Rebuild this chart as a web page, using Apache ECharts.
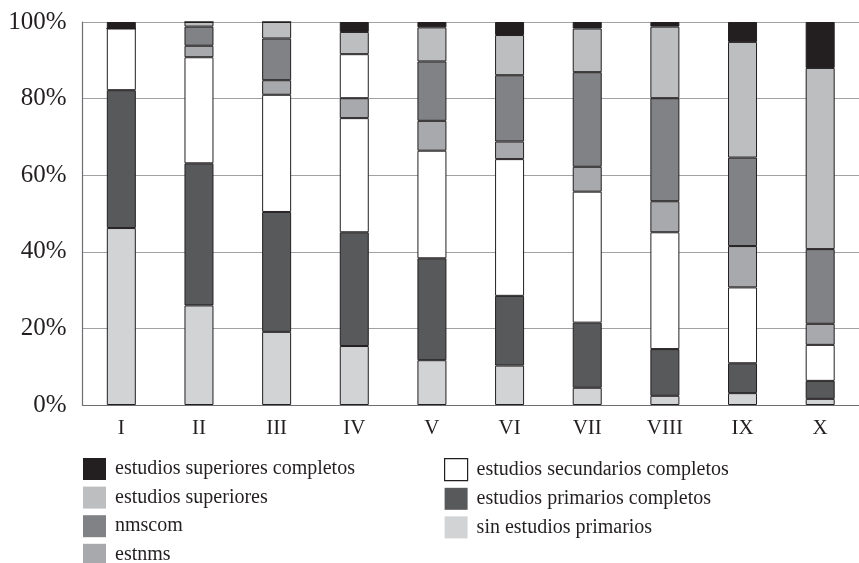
<!DOCTYPE html>
<html>
<head>
<meta charset="utf-8">
<script src="https://cdn.jsdelivr.net/npm/echarts@6/dist/echarts.min.js"></script>
<style>html,body{margin:0;padding:0;background:#fff}#c{width:859px;height:563px}</style>
</head>
<body>
<div id="c"></div>
<script>
const categories = ['I','II','III','IV','V','VI','VII','VIII','IX','X'];
const yTicks = [0, 20, 40, 60, 80, 100];
// bottom to top
const sinEstudiosPrimarios        = [46.2, 26.0, 19.1, 15.4, 11.7, 10.3,  4.5,  2.4,  3.1,  1.6];
const estudiosPrimariosCompletos  = [36.0, 37.1, 31.3, 29.7, 26.6, 18.2, 17.0, 12.2,  7.8,  4.7];
const estudiosSecundariosCompletos= [16.1, 27.7, 30.6, 29.8, 28.1, 35.7, 34.2, 30.5, 19.8,  9.4];
const estnms                      = [ 0.0,  3.0,  3.8,  5.2,  7.8,  4.6,  6.5,  8.1, 10.8,  5.5];
const nmscom                      = [ 0.0,  5.0, 10.9, 11.5, 15.5, 17.3, 24.7, 26.9, 23.1, 19.5];
const estudiosSuperiores          = [ 0.0,  1.2,  4.3,  5.8,  8.9, 10.5, 11.4, 18.7, 30.2, 47.3];
const estudiosSuperioresCompletos = [ 1.7,  0.0,  0.0,  2.6,  1.4,  3.4,  1.7,  1.2,  5.2, 12.0];

const seriesDefs = [
  {name:'sin estudios primarios', data: sinEstudiosPrimarios, color:'#d1d3d4'},
  {name:'estudios primarios completos', data: estudiosPrimariosCompletos, color:'#58595b'},
  {name:'estudios secundarios completos', data: estudiosSecundariosCompletos, color:'#ffffff'},
  {name:'estnms', data: estnms, color:'#a7a9ac'},
  {name:'nmscom', data: nmscom, color:'#808285'},
  {name:'estudios superiores', data: estudiosSuperiores, color:'#bcbec0'},
  {name:'estudios superiores completos', data: estudiosSuperioresCompletos, color:'#231f20'}
];
// in the reference, nmscom of category IV is drawn white
const colorOverrides = {'nmscom': {3: '#ffffff'}};

const font = 'Liberation Serif, DejaVu Serif, serif';
const ink = '#231f20';

const chart = echarts.init(document.getElementById('c'), null, {renderer:'canvas'});

const series = seriesDefs.map(s => ({
  name: s.name,
  type: 'bar',
  stack: 'total',
  barWidth: 29,
  itemStyle: {color: s.color, borderColor: ink, borderWidth: 1},
  emphasis: {disabled: true},
  data: s.data.map((v, i) => {
    const ov = colorOverrides[s.name] && colorOverrides[s.name][i];
    return ov ? {value: v, itemStyle: {color: ov}} : v;
  })
}));

function legendItem(name) {
  const isWhite = name === 'estudios secundarios completos';
  return {name: name, itemStyle: isWhite ? {borderColor: ink, borderWidth: 1.2} : {borderWidth: 0}};
}
const legendCommon = {
  orient: 'vertical',
  top: 458,
  height: 140,
  padding: 0,
  itemWidth: 23,
  itemHeight: 22,
  itemGap: 6.6,
  icon: 'rect',
  selectedMode: false,
  textStyle: {fontFamily: font, fontSize: 20, color: ink, padding: [0,0,0,4]}
};

chart.setOption({
  animation: false,
  backgroundColor: '#fff',
  grid: {left: 82.5, top: 22, width: 782, height: 383, containLabel: false},
  legend: [
    Object.assign({}, legendCommon, {left: 83, data: ['estudios superiores completos','estudios superiores','nmscom','estnms'].map(legendItem)}),
    Object.assign({}, legendCommon, {left: 444, data: ['estudios secundarios completos','estudios primarios completos','sin estudios primarios'].map(legendItem)})
  ],
  xAxis: {
    type: 'category',
    data: categories,
    axisLine: {lineStyle: {color: '#6d6e71', width: 1.2}},
    axisTick: {show: false},
    axisLabel: {fontFamily: font, fontSize: 21, color: ink, margin: 13}
  },
  yAxis: {
    type: 'value',
    min: yTicks[0],
    max: yTicks[yTicks.length - 1],
    interval: yTicks[1] - yTicks[0],
    axisLine: {show: true, lineStyle: {color: '#6d6e71', width: 1.2}},
    axisTick: {show: false},
    splitLine: {lineStyle: {color: '#a0a2a5', width: 1.2}},
    axisLabel: {fontFamily: font, fontSize: 25, color: ink, margin: 16, formatter: '{value}%'}
  },
  series: series
});
</script>
</body>
</html>
